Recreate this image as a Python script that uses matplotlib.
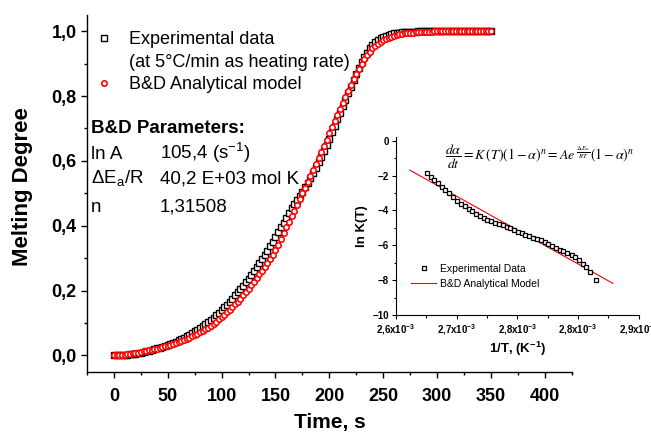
import numpy as np
import matplotlib
matplotlib.use("Agg")
import matplotlib.pyplot as plt
from matplotlib.lines import Line2D
from matplotlib.ticker import MultipleLocator, AutoMinorLocator, FuncFormatter

plt.rcParams['font.family'] = ['Liberation Sans', 'DejaVu Sans']
plt.rcParams['mathtext.fontset'] = 'custom'
plt.rcParams['mathtext.rm'] = 'Liberation Sans'
plt.rcParams['mathtext.it'] = 'Liberation Sans:italic'
plt.rcParams['mathtext.bf'] = 'Liberation Sans:bold'

# melting curve, one point every 2.5 s from 0 to 350 s
time_s = np.arange(0, 350.01, 2.5)

alpha_exp = [
    0.000, 0.000, 0.001, 0.001, 0.002, 0.003, 0.004, 0.005, 0.006, 0.008,
    0.009, 0.011, 0.013, 0.015, 0.017, 0.019, 0.022, 0.024, 0.027, 0.030,
    0.033, 0.036, 0.040, 0.043, 0.047, 0.051, 0.055, 0.060, 0.064, 0.069,
    0.074, 0.079, 0.085, 0.091, 0.097, 0.103, 0.110, 0.117, 0.124, 0.132,
    0.140, 0.148, 0.157, 0.166, 0.175, 0.185, 0.195, 0.205, 0.215, 0.226,
    0.237, 0.248, 0.260, 0.272, 0.284, 0.297, 0.310, 0.323, 0.337, 0.351,
    0.365, 0.380, 0.395, 0.410, 0.425, 0.440, 0.454, 0.467, 0.480, 0.492,
    0.505, 0.519, 0.533, 0.548, 0.563, 0.579, 0.596, 0.613, 0.631, 0.650,
    0.669, 0.689, 0.708, 0.728, 0.748, 0.768, 0.788, 0.808, 0.828, 0.848,
    0.868, 0.887, 0.905, 0.920, 0.934, 0.947, 0.958, 0.966, 0.973, 0.978,
    0.982, 0.986, 0.989, 0.991, 0.993, 0.995, 0.996, 0.997, 0.998, 0.998,
    0.999, 0.999, 0.999, 1.000, 1.000, 1.000, 1.000, 1.000, 1.000, 1.000,
    1.000, 1.000, 1.000, 1.000, 1.000, 1.000, 1.000, 1.000, 1.000, 1.000,
    1.000, 1.000, 1.000, 1.000, 1.000, 1.000, 1.000, 1.000, 1.000, 1.000,
    1.000,
]

alpha_model = [
    0.000, 0.001, 0.001, 0.002, 0.003, 0.004, 0.005, 0.007, 0.008, 0.009,
    0.011, 0.013, 0.014, 0.016, 0.018, 0.020, 0.021, 0.023, 0.026, 0.028,
    0.030, 0.033, 0.035, 0.038, 0.041, 0.044, 0.048, 0.051, 0.055, 0.059,
    0.063, 0.067, 0.071, 0.076, 0.081, 0.086, 0.092, 0.098, 0.104, 0.111,
    0.118, 0.125, 0.133, 0.141, 0.149, 0.158, 0.166, 0.175, 0.185, 0.195,
    0.206, 0.217, 0.228, 0.239, 0.250, 0.261, 0.272, 0.285, 0.298, 0.311,
    0.325, 0.342, 0.359, 0.377, 0.395, 0.412, 0.430, 0.447, 0.465, 0.482,
    0.500, 0.517, 0.535, 0.554, 0.572, 0.591, 0.610, 0.629, 0.647, 0.666,
    0.685, 0.704, 0.722, 0.741, 0.760, 0.779, 0.798, 0.816, 0.835, 0.852,
    0.868, 0.885, 0.900, 0.913, 0.926, 0.937, 0.947, 0.954, 0.961, 0.967,
    0.972, 0.976, 0.980, 0.983, 0.986, 0.988, 0.990, 0.992, 0.993, 0.994,
    0.995, 0.996, 0.997, 0.998, 0.998, 0.999, 0.999, 0.999, 0.999, 1.000,
    1.000, 1.000, 1.000, 1.000, 1.000, 1.000, 1.000, 1.000, 1.000, 1.000,
    1.000, 1.000, 1.000, 1.000, 1.000, 1.000, 1.000, 1.000, 1.000, 1.000,
    1.000,
]

# Arrhenius plot, 1/T in units of 1e-3 K^-1
inv_T = [
    2.638, 2.643, 2.647, 2.652, 2.657, 2.661, 2.666, 2.671, 2.676, 2.680,
    2.685, 2.690, 2.694, 2.699, 2.704, 2.709, 2.713, 2.718, 2.723, 2.727,
    2.732, 2.737, 2.741, 2.746, 2.751, 2.756, 2.760, 2.765, 2.770, 2.774,
    2.779, 2.784, 2.788, 2.793, 2.798, 2.803, 2.807, 2.812, 2.817, 2.821,
    2.826, 2.831, 2.835, 2.840, 2.847,
]
lnK_exp = [
    -1.87, -2.08, -2.24, -2.45, -2.65, -2.81, -3.02, -3.22, -3.43, -3.60,
    -3.77, -3.92, -4.05, -4.20, -4.33, -4.44, -4.52, -4.61, -4.70, -4.77,
    -4.86, -4.95, -5.03, -5.12, -5.21, -5.30, -5.38, -5.47, -5.56, -5.63,
    -5.72, -5.82, -5.91, -6.02, -6.13, -6.24, -6.34, -6.45, -6.57, -6.68,
    -6.85, -7.05, -7.25, -7.52, -7.97,
]
inv_T_fit = [2.617, 2.868]
lnK_fit = [-1.68, -8.18]

inset_xticks = [2.6, 2.675, 2.75, 2.825, 2.9]


def comma(v, pos=None):
    return f"{v:.1f}".replace('.', ',')


fig = plt.figure(figsize=(6.51, 4.36), dpi=100)
ax = fig.add_axes([0.1336, 0.1475, 0.7446, 0.8181])

ax.plot(time_s, alpha_exp, 's', ms=3.8, mew=1.0, mec='black', mfc='white')
ax.plot(time_s, alpha_model, 'o', ms=3.9, mew=1.15, mec='red', mfc='white')

ax.set_xlim(-25, 425)
ax.set_ylim(-0.05, 1.05)
ax.xaxis.set_major_locator(MultipleLocator(50))
ax.xaxis.set_minor_locator(MultipleLocator(25))
ax.yaxis.set_major_locator(MultipleLocator(0.2))
ax.yaxis.set_minor_locator(MultipleLocator(0.1))
ax.yaxis.set_major_formatter(FuncFormatter(comma))
for s in ['top', 'right']:
    ax.spines[s].set_visible(False)
for s in ['left', 'bottom']:
    ax.spines[s].set_linewidth(1.0)
ax.tick_params(which='major', direction='out', length=4.5, width=1.0, labelsize=13)
ax.tick_params(which='minor', direction='out', length=2.5, width=1.0)
ax.tick_params(axis='x', which='major', pad=7)
ax.tick_params(axis='y', which='major', pad=3)
for lab in ax.get_xticklabels() + ax.get_yticklabels():
    lab.set_fontweight('bold')

ax.set_xlabel('Time, s', fontsize=15, fontweight='bold')
ax.set_ylabel('Melting Degree', fontsize=16, fontweight='bold')
ax.xaxis.set_label_coords(0.501, -0.115)
ax.yaxis.set_label_coords(-0.112, 0.52)

handles = [
    Line2D([], [], ls='none', marker='s', ms=3.8, mew=1.0, mec='black', mfc='white'),
    Line2D([], [], ls='none'),
    Line2D([], [], ls='none', marker='o', ms=3.9, mew=1.15, mec='red', mfc='white'),
]
labels = ['Experimental data', '(at 5°C/min as heating rate)', 'B&D Analytical model']
fig.legend(handles, labels, loc='upper left', bbox_to_anchor=(94.5 / 651, 1 - 31.5 / 436),
           frameon=False, fontsize=13, borderpad=0, borderaxespad=0,
           handlelength=1.0, handletextpad=0.9, labelspacing=0.3, numpoints=1)

tx = ax.transAxes
ax.text(0.008, 0.6684, 'B&D Parameters:', transform=tx, fontsize=13.5, fontweight='bold', va='baseline')
ax.text(0.008, 0.5955, 'ln A', transform=tx, fontsize=13.5, va='baseline')
ax.text(0.1506, 0.5955, '105,4 (s$^{-1}$)', transform=tx, fontsize=13.5, va='baseline')
ax.text(0.008, 0.5282, 'ΔE$_\\mathregular{a}$/R', transform=tx, fontsize=13.5, va='baseline')
ax.text(0.1506, 0.5282, '40,2 E+03 mol K', transform=tx, fontsize=13.5, va='baseline')
ax.text(0.008, 0.4486, 'n', transform=tx, fontsize=13.5, va='baseline')
ax.text(0.1506, 0.4486, '1,31508', transform=tx, fontsize=13.5, va='baseline')

# inset: ln K versus 1/T
axin = fig.add_axes([0.6083, 0.2775, 0.3727, 0.4083])
axin.plot(inv_T_fit, lnK_fit, '-', color='red', lw=0.8, label='B&D Analytical Model')
axin.plot(inv_T, lnK_exp, 's', ms=3.3, mew=0.9, mec='black', mfc='white', label='Experimental Data')
axin.set_xlim(2.6, 2.9)
axin.set_ylim(-10, 0.22)
axin.set_xticks(inset_xticks)
axin.xaxis.set_minor_locator(AutoMinorLocator(2))
axin.xaxis.set_major_formatter(FuncFormatter(lambda v, p: comma(v) + 'x10$^{\\mathbf{-3}}$'))
axin.yaxis.set_major_locator(MultipleLocator(2))
axin.yaxis.set_minor_locator(MultipleLocator(1))
for s in ['top', 'right']:
    axin.spines[s].set_visible(False)
for s in ['left', 'bottom']:
    axin.spines[s].set_linewidth(0.8)
axin.tick_params(which='major', direction='out', length=3, width=0.8, labelsize=7, pad=2)
axin.tick_params(which='minor', direction='out', length=1.8, width=0.8)
for lab in axin.get_xticklabels() + axin.get_yticklabels():
    lab.set_fontweight('bold')
axin.set_xlabel('1/T, (K$^{\\mathbf{-1}}$)', fontsize=9.5, fontweight='bold', labelpad=2)
axin.set_ylabel('ln K(T)', fontsize=9.5, fontweight='bold', labelpad=3)

h, l = axin.get_legend_handles_labels()
axin.legend(h[::-1], l[::-1], loc='upper left', bbox_to_anchor=(411 / 651, 1 - 264 / 436),
            bbox_transform=fig.transFigure, frameon=False, fontsize=7.5, borderpad=0,
            borderaxespad=0, handlelength=2.4, handletextpad=0.4, labelspacing=0.45)

axin.text(0.594, 0.89,
          r'$\dfrac{d\alpha}{dt} = K\,(T)\left(1-\alpha\right)^n = Ae^{\;\frac{\Delta E_a}{RT}}\left(1-\alpha\right)^n$',
          transform=axin.transAxes, fontsize=10, ha='center', va='center', math_fontfamily='stix')

fig.savefig('out.png', dpi=100)
